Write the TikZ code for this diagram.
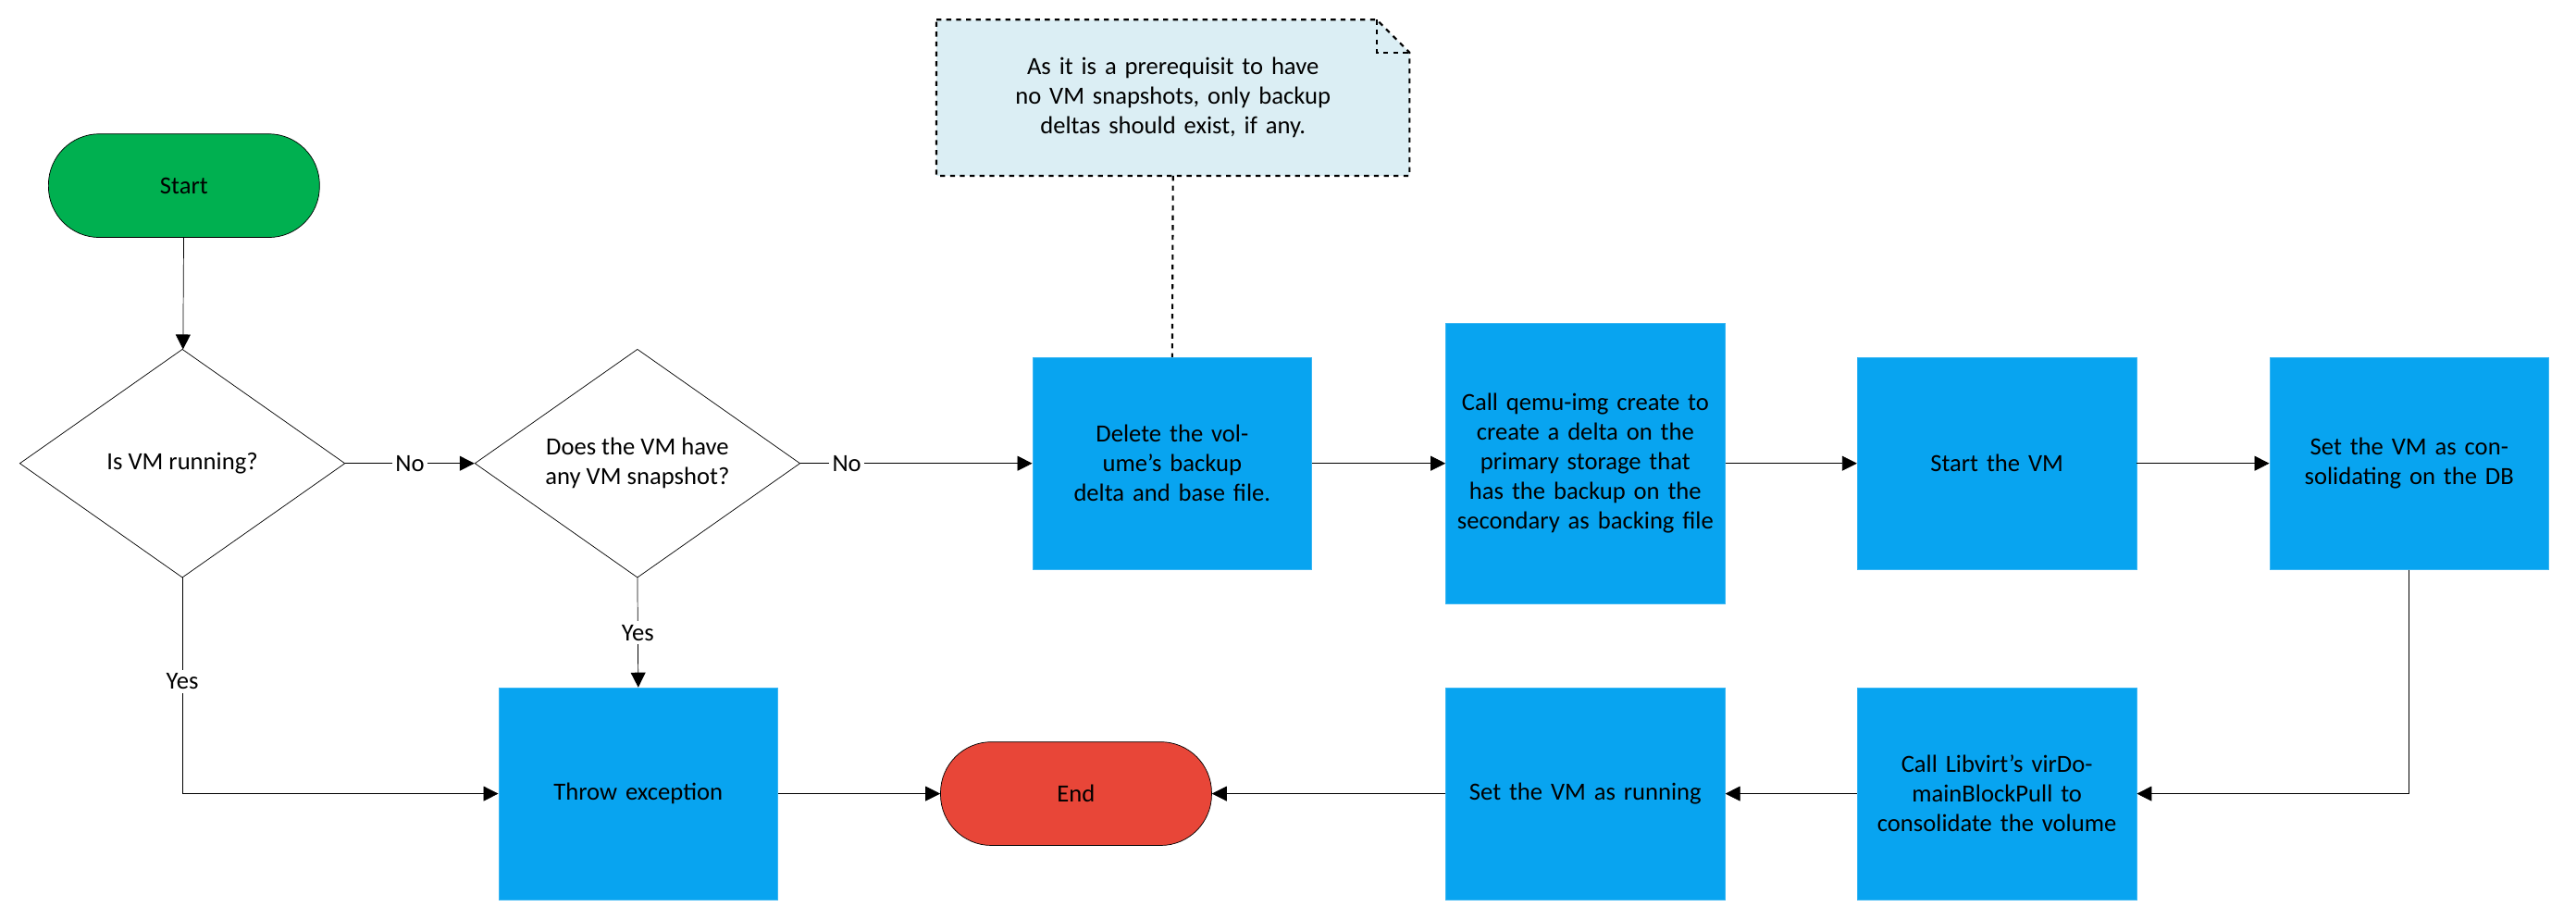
\documentclass[tikz,border=0pt]{standalone}
\usepackage{fontspec}
\setmainfont{Carlito}
\usetikzlibrary{shapes.geometric,arrows.meta}
\definecolor{boxblue}{RGB}{8,164,240}
\definecolor{startgreen}{RGB}{0,176,80}
\definecolor{endred}{RGB}{232,70,56}
\definecolor{notecol}{RGB}{219,238,244}
\tikzset{
  process/.style={draw=boxblue!80!white, fill=boxblue, minimum width=170pt, minimum height=129pt, text width=162pt, align=center, inner sep=2pt},
  terminal/.style={draw, fill=startgreen, rounded corners=31pt, minimum width=165pt, minimum height=63pt},
  decision/.style={draw, fill=white, diamond, aspect=1.43, minimum width=198pt, minimum height=139pt, inner sep=0pt, align=center},
  flow/.style={-{Triangle[length=9pt,width=9pt]}},
  lbl/.style={fill=white, inner sep=2pt}
}
\begin{document}
\begin{tikzpicture}[x=1pt,y=-1pt, font=\fontsize{15}{18}\selectfont]
\useasboundingbox (0,0) rectangle (1568,559);

% start and decisions
\node [terminal] (start) at (112,113) {Start};
\node [decision] (running) at (111,282) {Is VM running?};
\node [decision] (snap) at (388,282) {Does the VM have\\any VM snapshot?};

% top row
\node [process] (delete) at (713.5,282) {Delete the volume's backup delta and base file.};
\node [process, minimum height=171pt] (qemu) at (965,282) {Call qemu-img create to create a delta on the primary storage that has the backup on the secondary as backing file};
\node [process] (startvm) at (1215.5,282) {Start the VM};
\node [process] (consol) at (1466.5,282) {Set the VM as consolidating on the DB};

% bottom row
\node [process] (throw) at (388.5,483) {Throw exception};
\node [terminal, fill=endred] (end) at (655,483) {End};
\node [process] (setrun) at (965,483) {Set the VM as running};
\node [process] (libvirt) at (1215.5,483) {Call Libvirt's virDomainBlockPull to consolidate the volume};

% note
\draw [dashed, line width=1.2pt, fill=notecol] (570,12) -- (838,12) -- (858,32) -- (858,107) -- (570,107) -- cycle;
\draw [dashed, line width=1.2pt] (838,12) -- (838,32) -- (858,32);
\node [text width=280pt, align=center] (note) at (714,59.5) {As it is a prerequisit to have no VM snapshots, only backup deltas should exist, if any.};
\draw [dashed, line width=1.2pt] (note.south |- 0,107) -- (delete.north);

% connectors
\draw [flow] (start) -- (running);
\draw [flow] (running) -- node [lbl] {No} (snap);
\draw [flow] (snap) -- node [lbl, pos=0.2] {No} (delete);
\draw [flow] (delete) -- (qemu);
\draw [flow] (qemu) -- (startvm);
\draw [flow] (startvm) -- (consol);
\draw [flow] (consol.south) |- (libvirt.east);
\draw [flow] (libvirt) -- (setrun);
\draw [flow] (setrun) -- (end);
\draw [flow] (throw) -- (end);
\draw [flow] (snap.south) -- node [lbl, pos=0.5] {Yes} (throw.north);
\draw [flow] (running.south) |- node [lbl, pos=0.24] {Yes} (throw.west);
\end{tikzpicture}
\end{document}
